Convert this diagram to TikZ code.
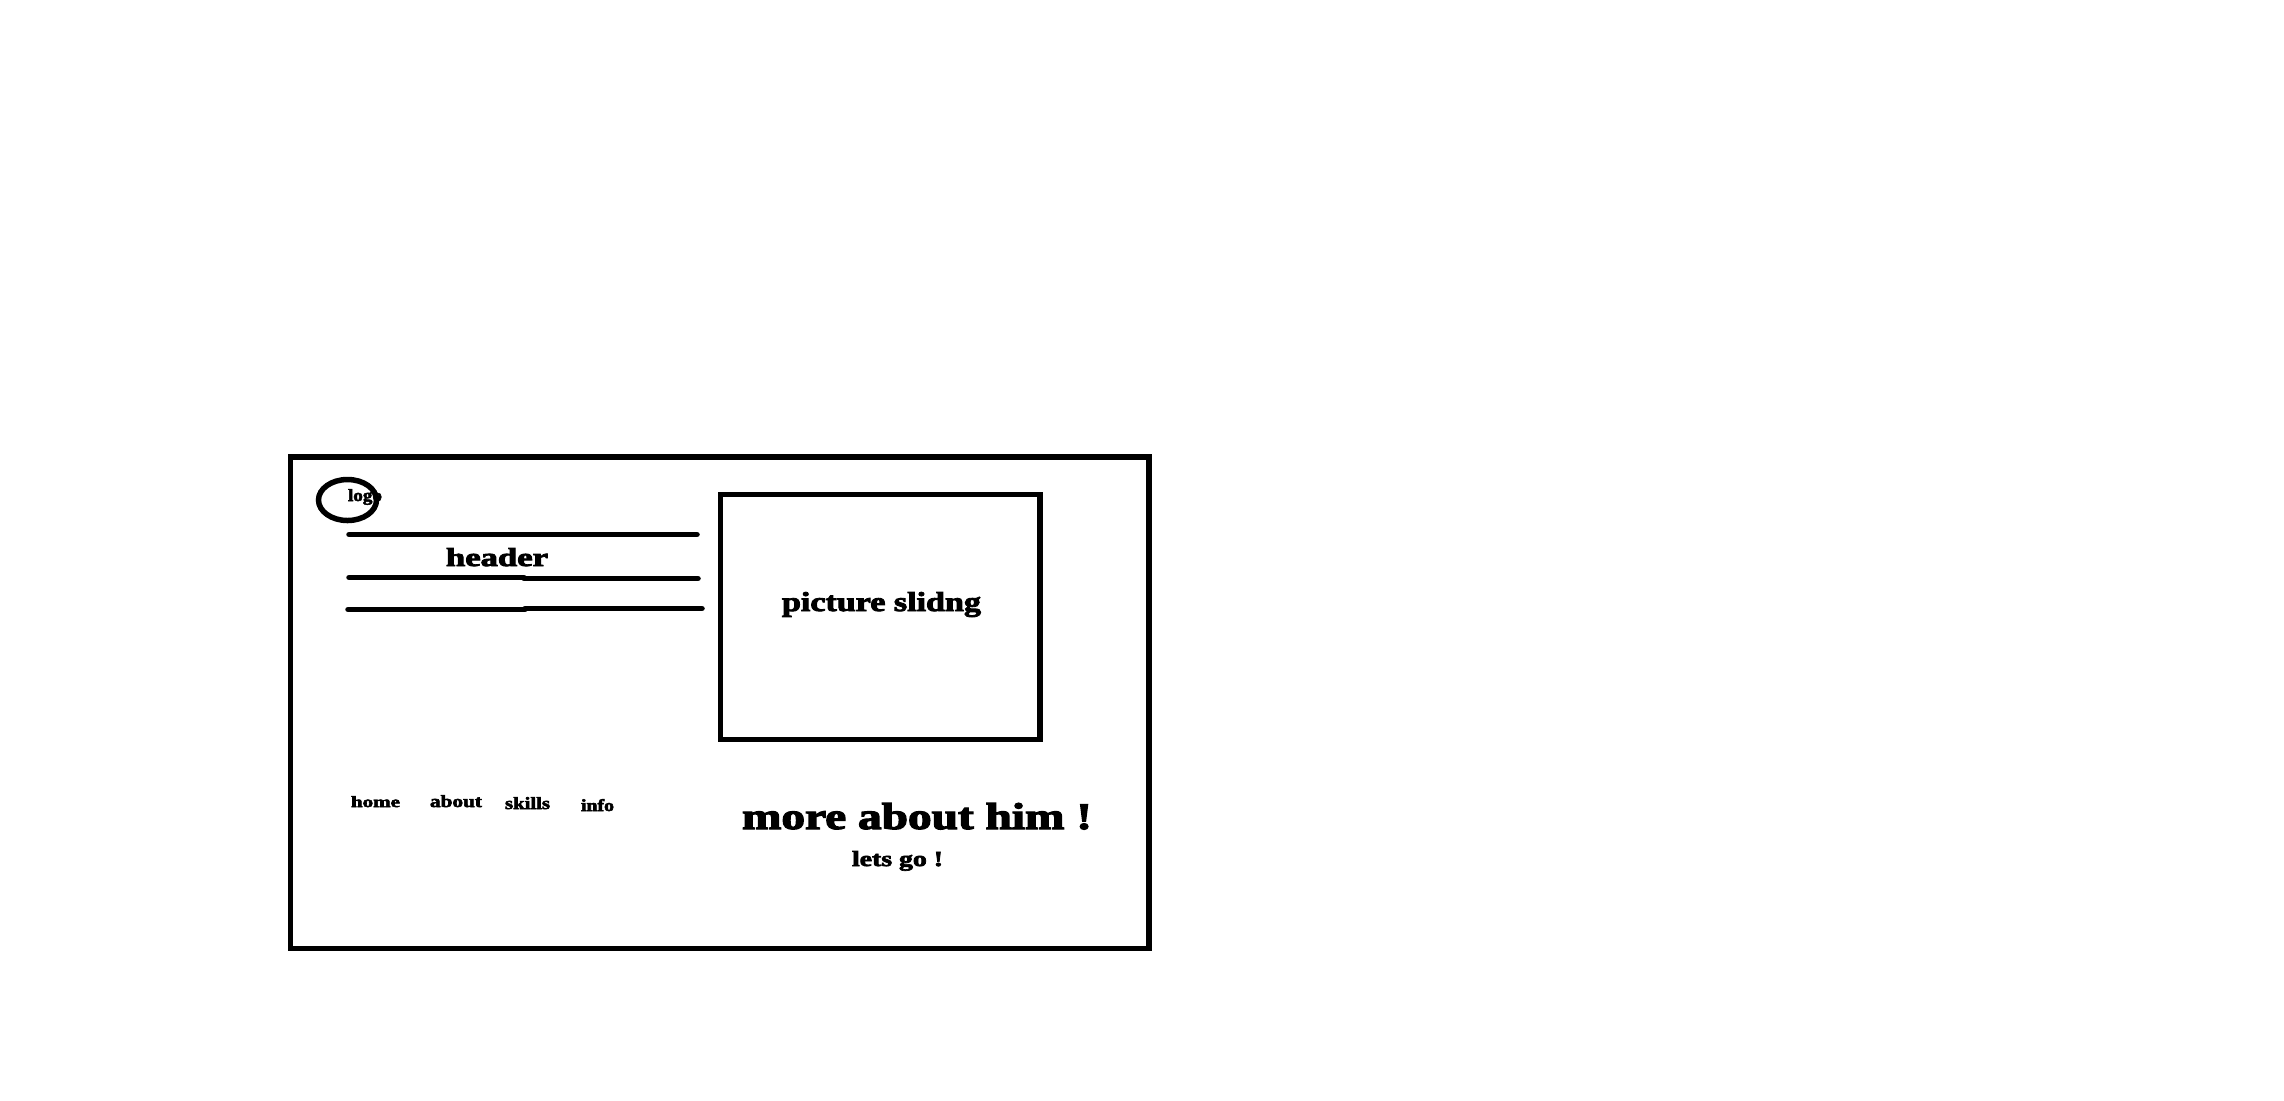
\documentclass[tikz,border=0pt]{standalone}
\usepackage{fontspec}
\usepackage{graphicx}
\setmainfont[FakeBold=3]{Liberation Serif Bold}
\newlength{\px}\setlength{\px}{0.5pt}
\newcommand{\fitlabel}[3]{\resizebox{#1\px}{#2\px}{#3}}
\tikzset{
  x=0.5pt,y=-0.5pt,
  frame/.style={draw=black,line width=2.75pt,fill=none},
  rule/.style={draw=black,line width=2.75pt,line cap=round},
  lab/.style={anchor=base west,inner sep=0pt,outer sep=0pt,text=black},
}
\begin{document}
\begin{tikzpicture}
\useasboundingbox (0,0) rectangle (2284,1100);
\fill[white] (0,0) rectangle (2284,1100);
\draw[frame] (290.5,457) rectangle (1149,948.5);
\draw[frame] (720.5,494.5) rectangle (1040,739.5);
\draw[frame] (347.5,500) ellipse [x radius=29,y radius=20.5];
\draw[rule] (349,534.5) -- (697,534.5);
\draw[rule] (349,577.5) -- (524,577.5);
\draw[rule] (524,578.5) -- (698,578.5);
\draw[rule] (348,609.5) -- (525,609.5);
\draw[rule] (525,608.5) -- (702,608.5);
\node[lab] (logo) at (348,501) {\fitlabel{34}{12}{logo}};
\node[lab] (header) at (446,566) {\fitlabel{102}{18}{header}};
\node[lab] (slide) at (782,611) {\fitlabel{199}{19}{picture slidng}};
\node[lab] (home) at (351,807) {\fitlabel{49}{11}{home}};
\node[lab] (about) at (430,807) {\fitlabel{52}{12}{about}};
\node[lab] (skills) at (505,809) {\fitlabel{45}{12}{skills}};
\node[lab] (info) at (581,811) {\fitlabel{33}{12}{info}};
\node[lab] (more) at (742,829) {\fitlabel{350}{26}{more about him !}};
\node[lab] (go) at (852,866) {\fitlabel{91}{15}{lets go !}};
\end{tikzpicture}
\end{document}
